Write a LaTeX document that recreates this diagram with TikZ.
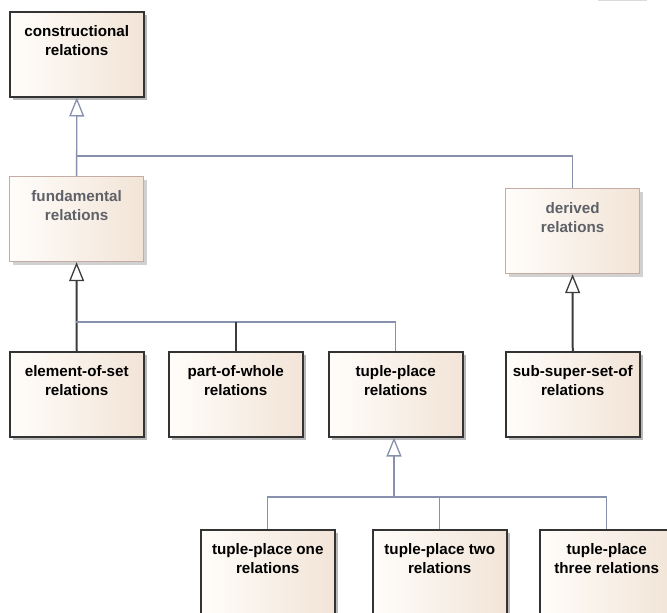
\documentclass[tikz,border=0pt]{standalone}
\usepackage{fontspec}
\setmainfont{Liberation Sans}
\usetikzlibrary{arrows.meta,shadows}

\definecolor{boxline}{HTML}{333333}
\definecolor{fadeline}{HTML}{C4ACA4}
\definecolor{fadetext}{HTML}{5E6168}
\definecolor{fillL}{HTML}{FFFDFA}
\definecolor{fillR}{HTML}{F2E4D7}
\definecolor{linkblue}{HTML}{8790AC}
\definecolor{linkdark}{HTML}{3C3C3C}

\tikzset{
  classbox/.style={rectangle, draw=boxline, line width=1.5pt, anchor=north west,
    minimum width=134pt, minimum height=85pt, inner sep=0pt,
    left color=fillL, right color=fillR,
    general shadow={fill=black!28, shadow xshift=3pt, shadow yshift=-3pt}},
  abstractbox/.style={classbox, draw=fadeline, line width=1.2pt,
    general shadow={fill=black!18, shadow xshift=3pt, shadow yshift=-3pt}},
  caption/.style={anchor=base, align=center, inner sep=0pt,
    font=\bfseries\fontsize{15.2}{19}\selectfont, text=black},
  fadecaption/.style={caption, text=fadetext},
  genblue/.style={draw=linkblue, line width=1.3pt,
    -{Triangle[length=19pt, width=15pt, fill=white, line width=1.3pt]}},
  gendark/.style={draw=linkdark, line width=2pt,
    -{Triangle[length=19pt, width=15pt, fill=white, line width=1.3pt]}},
  bluelink/.style={draw=linkblue, line width=1.3pt},
  darklink/.style={draw=linkdark, line width=2pt},
}

\begin{document}
\begin{tikzpicture}[x=1pt, y=-1pt]
\useasboundingbox (0,0) rectangle (667,613);
\clip (0,0) rectangle (667,613);

% faint edge at the top margin
\draw[black!14, line width=1.5pt] (598,0.6) -- (647,0.6);

% class boxes
\node[classbox]    (con)   at (9,11)    {};
\node[abstractbox] (fund)  at (9,176)   {};
\node[abstractbox] (der)   at (505,188) {};
\node[classbox]    (elem)  at (9,351)   {};
\node[classbox]    (part)  at (168,351) {};
\node[classbox]    (tup)   at (328,351) {};
\node[classbox]    (sub)   at (505,351) {};
\node[classbox]    (one)   at (200,529) {};
\node[classbox]    (two)   at (372,529) {};
\node[classbox]    (three) at (539,529) {};

% two-line captions: the base anchor sits on the second line,
% which lies 44pt below the top edge
\node[caption]     (tcon)   at ([yshift=-44pt]con.north)   {constructional\\relations};
\node[fadecaption] (tfund)  at ([yshift=-44pt]fund.north)  {fundamental\\relations};
\node[fadecaption] (tder)   at ([yshift=-44pt]der.north)   {derived\\relations};
\node[caption]     (telem)  at ([yshift=-44pt]elem.north)  {element-of-set\\relations};
\node[caption]     (tpart)  at ([yshift=-44pt]part.north)  {part-of-whole\\relations};
\node[caption]     (ttup)   at ([yshift=-44pt]tup.north)   {tuple-place\\relations};
\node[caption]     (tsub)   at ([yshift=-44pt]sub.north)   {sub-super-set-of\\relations};
\node[caption]     (tone)   at ([yshift=-44pt]one.north)   {tuple-place one\\relations};
\node[caption]     (ttwo)   at ([yshift=-44pt]two.north)   {tuple-place two\\relations};
\node[caption]     (tthree) at ([yshift=-44pt]three.north) {tuple-place\\three relations};

% junction points
\coordinate (jtop) at (76,156);
\coordinate (jmid) at (76,322);
\coordinate (jlow) at (394,497);

% generalisations into constructional relations
\draw[genblue] (fund.north) -- (con.south);
\draw[bluelink] (der.north) |- (jtop);

% generalisations into fundamental relations
\draw[gendark] (elem.north) -- (fund.south);
\draw[bluelink] (jmid) -| (tup.north);
\draw[darklink] (part.north) -- (part.north |- jmid);

% generalisation into derived relations
\draw[gendark] (sub.north) -- (der.south);

% generalisations into tuple-place relations
\draw[genblue] (jlow) -- (jlow |- tup.south);
\draw[bluelink] (one.north) |- (jlow);
\draw[bluelink] (three.north) |- (jlow);
\draw[bluelink] (two.north) -- (two.north |- jlow);
\end{tikzpicture}
\end{document}
